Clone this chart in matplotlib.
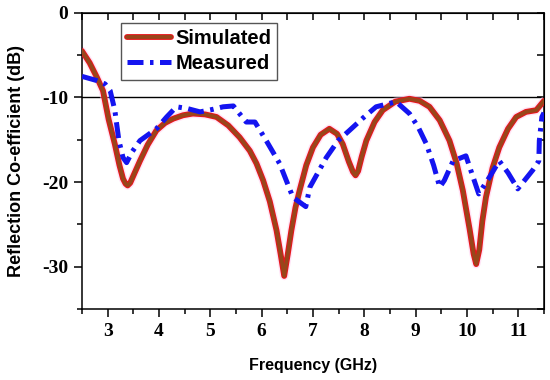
import matplotlib.pyplot as plt
from matplotlib.legend_handler import HandlerTuple

# simulated S11 (frequency in GHz, dB)
sim_freq = [2.5, 2.65, 2.79, 2.91, 3.02, 3.14, 3.23, 3.30, 3.35, 3.39, 3.44, 3.52, 3.63,
            3.78, 3.95, 4.12, 4.28, 4.47, 4.66, 4.90, 5.12, 5.35, 5.57, 5.77, 5.90,
            6.03, 6.16, 6.29, 6.37, 6.44, 6.51, 6.58, 6.66, 6.74, 6.87, 7.0, 7.15,
            7.32, 7.47, 7.58, 7.70, 7.78, 7.83, 7.88, 7.95, 8.04, 8.20, 8.36, 8.60,
            8.88, 9.08, 9.27, 9.47, 9.66, 9.80, 9.92, 10.05, 10.13, 10.18, 10.24,
            10.30, 10.37, 10.50, 10.63, 10.80, 10.96, 11.15, 11.35, 11.5]
sim_db = [-4.5, -5.9, -7.6, -9.2, -12.6, -15.5, -18.0, -19.6, -20.2, -20.4, -20.1, -19.0,
          -17.5, -15.6, -13.9, -13.0, -12.5, -12.1, -11.9, -12.0, -12.3, -13.3, -14.7,
          -16.3, -17.8, -19.8, -22.3, -25.7, -28.5, -31.1, -28.5, -25.7, -23.0, -21.0,
          -18.0, -15.9, -14.4, -13.7, -14.3, -15.5, -17.6, -18.8, -19.2, -18.7, -17.0,
          -15.1, -12.9, -11.5, -10.5, -10.15, -10.4, -11.1, -12.7, -15.1, -17.8, -21.0,
          -25.5, -28.5, -29.7, -28.0, -24.6, -21.8, -18.3, -15.9, -13.7, -12.3, -11.7,
          -11.5, -10.4]

# measured S11
meas_freq = [2.5, 2.79, 2.95, 3.05, 3.14, 3.22, 3.30, 3.37, 3.48, 3.63, 3.95, 4.15, 4.34,
             4.55, 4.80, 5.05, 5.25, 5.45, 5.70, 5.87, 6.10, 6.35, 6.61, 6.86, 6.94,
             7.26, 7.49, 7.71, 7.98, 8.23, 8.62, 8.88, 9.05, 9.21, 9.35, 9.47, 9.56,
             9.73, 9.98, 10.23, 10.44, 10.63, 10.80, 10.99, 11.28, 11.40, 11.41, 11.46,
             11.5]
meas_db = [-7.5, -8.0, -8.4, -9.2, -11.5, -15.1, -17.1, -17.7, -16.4, -15.1, -13.7, -12.3,
           -11.1, -11.3, -11.7, -11.4, -11.1, -11.0, -12.9, -12.9, -15.2, -17.8, -21.8,
           -22.9, -20.6, -17.1, -15.1, -13.9, -12.4, -11.1, -10.5, -11.9, -13.5, -15.5,
           -18.0, -20.6, -19.8, -17.5, -16.9, -21.4, -19.4, -17.5, -18.9, -20.8, -18.6,
           -17.5, -15.1, -12.3, -11.8]

x_ticks = [3, 4, 5, 6, 7, 8, 9, 10, 11]
y_ticks = [-30, -20, -10, 0]

fig = plt.figure(figsize=(5.5, 3.8), dpi=100)
ax = fig.add_axes([0.149, 0.187, 0.840, 0.779])

ax.axhline(-10, color='black', lw=1.0, zorder=1)

ax.plot(sim_freq, sim_db, color='#FFC4EC', lw=6.2, alpha=0.45, zorder=2, solid_capstyle='round')
red, = ax.plot(sim_freq, sim_db, color='#E8141A', lw=4.2, zorder=3, solid_capstyle='round')
brown, = ax.plot(sim_freq, sim_db, color='#98461A', lw=2.7, zorder=4, solid_capstyle='round')
blue, = ax.plot(meas_freq, meas_db, color='#1414F0', lw=3.6, zorder=5,
                dashes=(3.2, 1.3, 0.7, 1.3))

ax.set_xlim(2.5, 11.5)
ax.set_ylim(-35, 0)
ax.set_xticks(x_ticks)
ax.set_yticks(y_ticks)
ax.set_xticks([x + 0.5 for x in [2] + x_ticks], minor=True)
ax.set_yticks([-35, -25, -15, -5], minor=True)

tick_font = {'family': 'Liberation Serif', 'weight': 'bold', 'size': 14}
ax.set_xticklabels([str(t) for t in x_ticks], fontdict=tick_font)
ax.set_yticklabels([str(t) for t in y_ticks], fontdict=tick_font)
ax.tick_params(which='major', direction='out', length=6, width=1.1, pad=4)
ax.tick_params(which='minor', direction='out', length=3.5, width=1.1)

for s in ax.spines.values():
    s.set_linewidth(1.1)

# inward ticks on top and right
top = ax.secondary_xaxis('top')
top.set_xticks(x_ticks)
top.set_xticks([x + 0.5 for x in [2] + x_ticks], minor=True)
top.tick_params(which='both', direction='in', length=5, width=1.1, labeltop=False)
right = ax.secondary_yaxis('right')
right.set_yticks(y_ticks)
right.set_yticks([-35, -25, -15, -5], minor=True)
right.tick_params(which='both', direction='in', length=5, width=1.1, labelright=False)

ax.set_xlabel('Frequency (GHz)', fontdict={'family': 'Liberation Sans', 'weight': 'bold',
                                            'size': 11.5}, labelpad=13)
ax.set_ylabel('Reflection Co-efficient (dB)', fontdict={'family': 'Liberation Sans',
                                                        'weight': 'bold', 'size': 13},
              labelpad=12)

leg = ax.legend([(red, brown), blue], ['Simulated', 'Measured'],
                handler_map={tuple: HandlerTuple(ndivide=1)},
                loc='upper left', bbox_to_anchor=(0.084, 0.966), borderaxespad=0,
                prop={'family': 'Liberation Sans', 'weight': 'bold', 'size': 14.5},
                fancybox=False, framealpha=1, edgecolor='#555555',
                handlelength=2.2, handletextpad=0.2, borderpad=0.3, labelspacing=0.32)
leg.get_frame().set_linewidth(1.0)

plt.savefig('out.png', dpi=100)
